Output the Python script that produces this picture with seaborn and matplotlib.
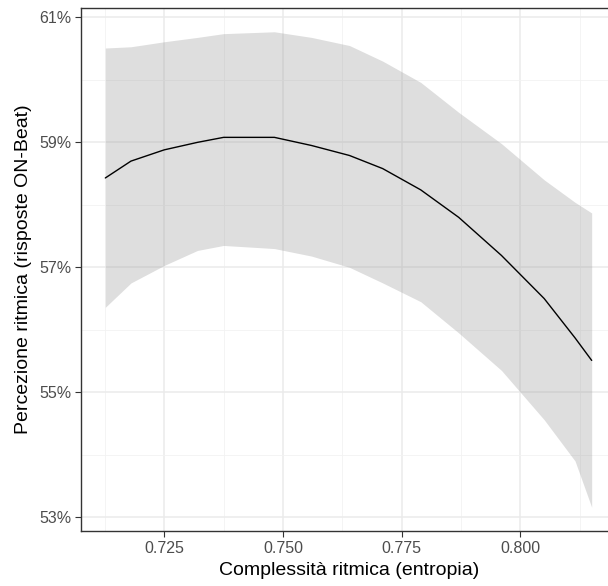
import matplotlib
matplotlib.use("Agg")
import matplotlib.pyplot as plt
import seaborn as sns
import pandas as pd
from matplotlib.ticker import FuncFormatter, FixedLocator

# Data
entropia = [0.7126, 0.7180, 0.7250, 0.7320, 0.7375, 0.7482, 0.7560, 0.7640,
            0.7710, 0.7790, 0.7870, 0.7960, 0.8050, 0.8115, 0.8150]
stima = [58.43, 58.70, 58.88, 59.00, 59.08, 59.08, 58.95, 58.79,
         58.58, 58.24, 57.80, 57.19, 56.50, 55.87, 55.51]
inferiore = [56.36, 56.75, 57.03, 57.27, 57.35, 57.30, 57.18, 57.00,
             56.75, 56.45, 55.95, 55.35, 54.56, 53.90, 53.16]
superiore = [60.51, 60.53, 60.61, 60.68, 60.74, 60.77, 60.68, 60.55,
             60.30, 59.96, 59.48, 58.98, 58.40, 58.04, 57.87]
x_ticks = [0.725, 0.750, 0.775, 0.800]
x_tick_labels = ["0.725", "0.750", "0.775", "0.800"]
y_ticks = [53, 55, 57, 59, 61]

df = pd.DataFrame({"x": entropia, "y": stima, "lo": inferiore, "hi": superiore})

sns.set_theme(style="white")
plt.rcParams["font.family"] = ["Liberation Sans", "DejaVu Sans"]

W, H = 608, 586
left_px, right_px_full, bottom_px, top_px = 81, 616, 531, 8
right_px = 620  # panel runs past the image edge

fig = plt.figure(figsize=(W / 100, H / 100), dpi=100)
ax = fig.add_axes([left_px / W, (H - bottom_px) / H,
                   (right_px - left_px) / W, (bottom_px - top_px) / H])
ax.set_facecolor("white")

ax.fill_between(df["x"], df["lo"], df["hi"], color="#999999", alpha=0.32,
                linewidth=0, zorder=2)
sns.lineplot(data=df, x="x", y="y", color="black", linewidth=1.0, ax=ax, zorder=3,
             legend=False)

# limits with ggplot-like 5% expansion
xmin, xmax = min(entropia), max(entropia)
dx = (xmax - xmin) * 0.05
x_lo, x_hi_full = xmin - dx, xmax + dx
px_per_unit = (right_px_full - left_px) / (x_hi_full - x_lo)
ax.set_xlim(x_lo, x_lo + (right_px - left_px) / px_per_unit)
ymin, ymax = min(inferiore), max(superiore)
dy = (ymax - ymin) * 0.05
ax.set_ylim(ymin - dy, ymax + dy)

ax.xaxis.set_major_locator(FixedLocator(x_ticks))
ax.set_xticklabels(x_tick_labels)
ax.yaxis.set_major_locator(FixedLocator(y_ticks))
ax.yaxis.set_major_formatter(FuncFormatter(lambda v, p: f"{v:.0f}%"))
minor_x = [0.7125, 0.7375, 0.7625, 0.7875, 0.8125]
minor_y = [54, 56, 58, 60]
ax.xaxis.set_minor_locator(FixedLocator(minor_x))
ax.yaxis.set_minor_locator(FixedLocator(minor_y))

ax.grid(True, which="major", color="#EBEBEB", linewidth=1.1, zorder=0)
ax.grid(True, which="minor", color="#F2F2F2", linewidth=0.6, zorder=0)
ax.set_axisbelow(True)

for s in ax.spines.values():
    s.set_color("#333333")
    s.set_linewidth(1.0)
    s.set_visible(True)
ax.spines["right"].set_visible(False)

ax.tick_params(axis="both", which="major", length=4, width=0.8, color="#333333",
               labelcolor="#4D4D4D", labelsize=11.5, pad=3, bottom=True, left=True)
ax.tick_params(axis="both", which="minor", length=0)

ax.set_xlabel("Complessità ritmica (entropia)", fontsize=14, color="black")
ax.set_ylabel("Percezione ritmica (risposte ON-Beat)", fontsize=14, color="black", labelpad=5)
# center the x title on the full (partly cut) panel
ax.xaxis.set_label_coords(((left_px + right_px_full) / 2 + 1 - left_px) / (right_px - left_px),
                          -0.060)

fig.savefig("out.png", dpi=100, facecolor="white")
